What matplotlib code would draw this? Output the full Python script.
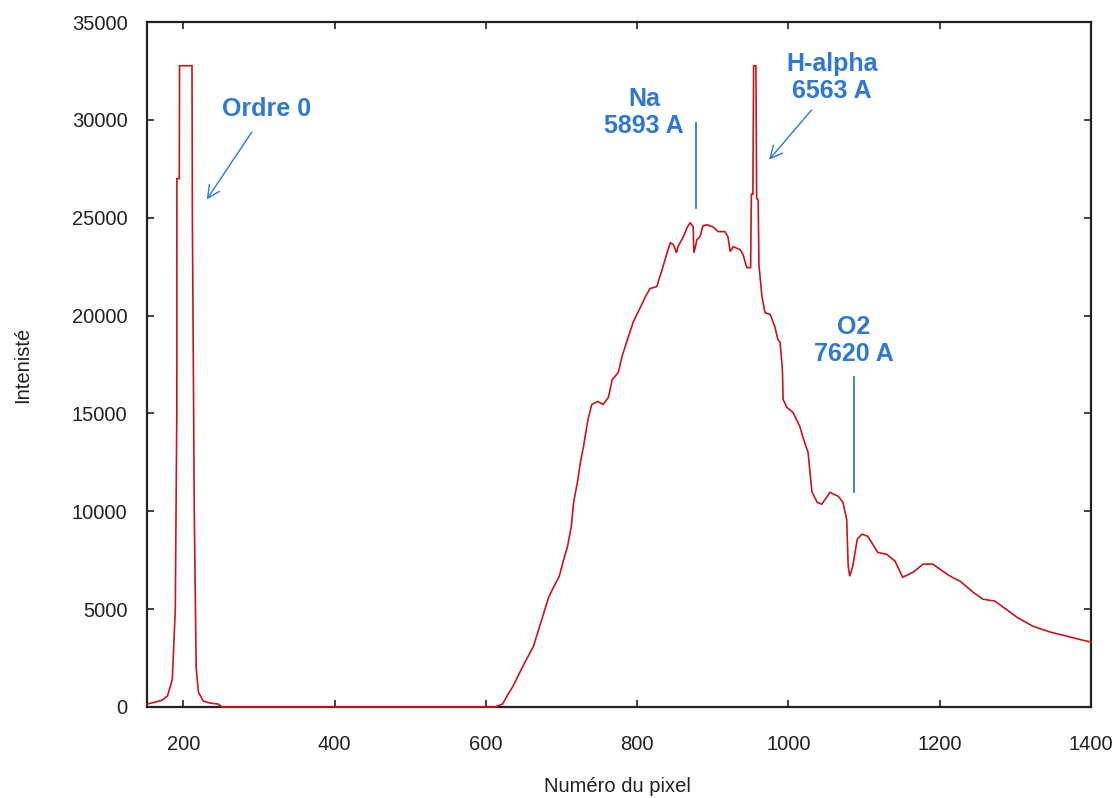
import matplotlib
matplotlib.use("Agg")
import matplotlib.pyplot as plt
import numpy as np

# ---- data (pixel number, intensity) ----
order0_x = [152, 163, 172, 179, 183, 185.5, 189.4, 191.4, 191.5, 194.7, 195, 211.5, 212, 214.5, 217, 218.5, 220, 226.4, 235.7, 246, 251.5]
order0_y = [150, 250, 350, 560, 1070, 1430, 5000, 15000, 27000, 27000, 32767, 32767, 25000, 10000, 2000, 1400, 760, 300, 200, 150, 0]

spec_x = [612, 622, 628, 636, 649, 663, 674, 683, 690, 697, 703, 708, 713, 716, 721, 725, 729, 735,
          740, 748, 755, 762, 767, 775, 780, 788, 795, 804, 811, 817, 826, 833, 840, 844, 848, 852,
          854, 861, 866, 870, 874, 875, 877, 879, 883, 887, 892, 900, 907, 916, 920, 923, 927, 936,
          940, 945, 950, 951, 953, 954, 957, 958, 960, 961, 965, 969, 976, 982, 986, 989, 992, 993,
          998, 1006, 1015, 1019, 1026, 1031, 1038, 1044, 1055, 1066, 1072, 1077, 1079, 1081, 1085,
          1091, 1097, 1105, 1118, 1130, 1141, 1151, 1165, 1178, 1191, 1204, 1214, 1227, 1244, 1257,
          1273, 1284, 1302, 1323, 1346, 1368, 1383, 1400]
spec_y = [0, 150, 560, 1070, 2090, 3110, 4490, 5610, 6170, 6680, 7550, 8210, 9240, 10460, 11480, 12500,
          13300, 14690, 15460, 15610, 15460, 15820, 16730, 17090, 17910, 18880, 19690, 20400, 20970,
          21380, 21480, 22350, 23270, 23720, 23620, 23210, 23520, 24030, 24490, 24750, 24540, 23210,
          23500, 23880, 24030, 24590, 24640, 24540, 24290, 24290, 24030, 23270, 23520, 23370, 23110,
          22450, 22450, 26200, 26200, 32767, 32767, 26000, 25900, 22600, 20970, 20150, 20050, 19440,
          18780, 18620, 17240, 15710, 15310, 15050, 14340, 13800, 13000, 11000, 10460, 10360, 10970,
          10760, 10460, 9590, 7190, 6680, 7190, 8570, 8830, 8720, 7900, 7800, 7450, 6630, 6890, 7300,
          7300, 6940, 6680, 6430, 5870, 5510, 5410, 5100, 4590, 4130, 3830, 3620, 3470, 3320]

x_ticks = [200, 400, 600, 800, 1000, 1200, 1400]
y_ticks = [0, 5000, 10000, 15000, 20000, 25000, 30000, 35000]

# annotations
labels = ["Ordre 0", "Na\n5893 A", "H-alpha\n6563 A", "O2\n7620 A"]
label_pos = [(309.7, 30560), (809, 30357), (1057.7, 32170), (1086.7, 18725)]
arrows = [((292.5, 29490), (229, 25816)), ((1033, 30610), (972, 27860))]
marker_lines = [(878, 25510, 29850), (1087, 10970, 16840)]

RED = "#c8161e"
BLUE = "#2f78d4"

x = np.concatenate([order0_x, spec_x])
y = np.concatenate([order0_y, spec_y])

fig = plt.figure(figsize=(11.2, 7.98), dpi=100)
ax = fig.add_axes([147 / 1120, 1 - 707 / 798, (1091 - 147) / 1120, (707 - 22) / 798])
ax.plot(x, y, color=RED, lw=1.2, solid_joinstyle="miter", zorder=3, clip_on=False)

ax.set_xlim(152, 1400)
ax.set_ylim(0, 35000)
ax.set_xticks(x_ticks)
ax.set_yticks(y_ticks)
ax.tick_params(direction="in", length=5, width=1.2, top=True, right=True,
               labelsize=14.5, colors="#222222")
ax.tick_params(axis="y", pad=14)
ax.tick_params(axis="x", pad=20)
for lab in ax.get_xticklabels() + ax.get_yticklabels():
    lab.set_fontfamily("Liberation Sans")
for s in ax.spines.values():
    s.set_linewidth(1.6)
    s.set_color("#222222")

for (tx, ty), t in zip(label_pos, labels):
    ax.text(tx, ty, t, color=BLUE, fontsize=18, fontweight="bold", family="Liberation Sans",
            ha="center", va="center", multialignment="center", linespacing=1.15)
for (tail, head) in arrows:
    ax.annotate("", xy=head, xytext=tail,
                arrowprops=dict(arrowstyle="->", color=BLUE, lw=1.0, mutation_scale=22))
for (lx, y0, y1) in marker_lines:
    ax.plot([lx, lx], [y0, y1], color=BLUE, lw=1.3)

fig.text(617 / 1120, 1 - 787 / 798, "Numéro du pixel", ha="center", va="center",
         fontsize=14.5, family="Liberation Sans", color="#222222")
fig.text(23 / 1120, 1 - 365 / 798, "Intenisté", ha="center", va="center", rotation=90,
         fontsize=14.5, family="Liberation Sans", color="#222222")

fig.savefig("out.png", dpi=100)
